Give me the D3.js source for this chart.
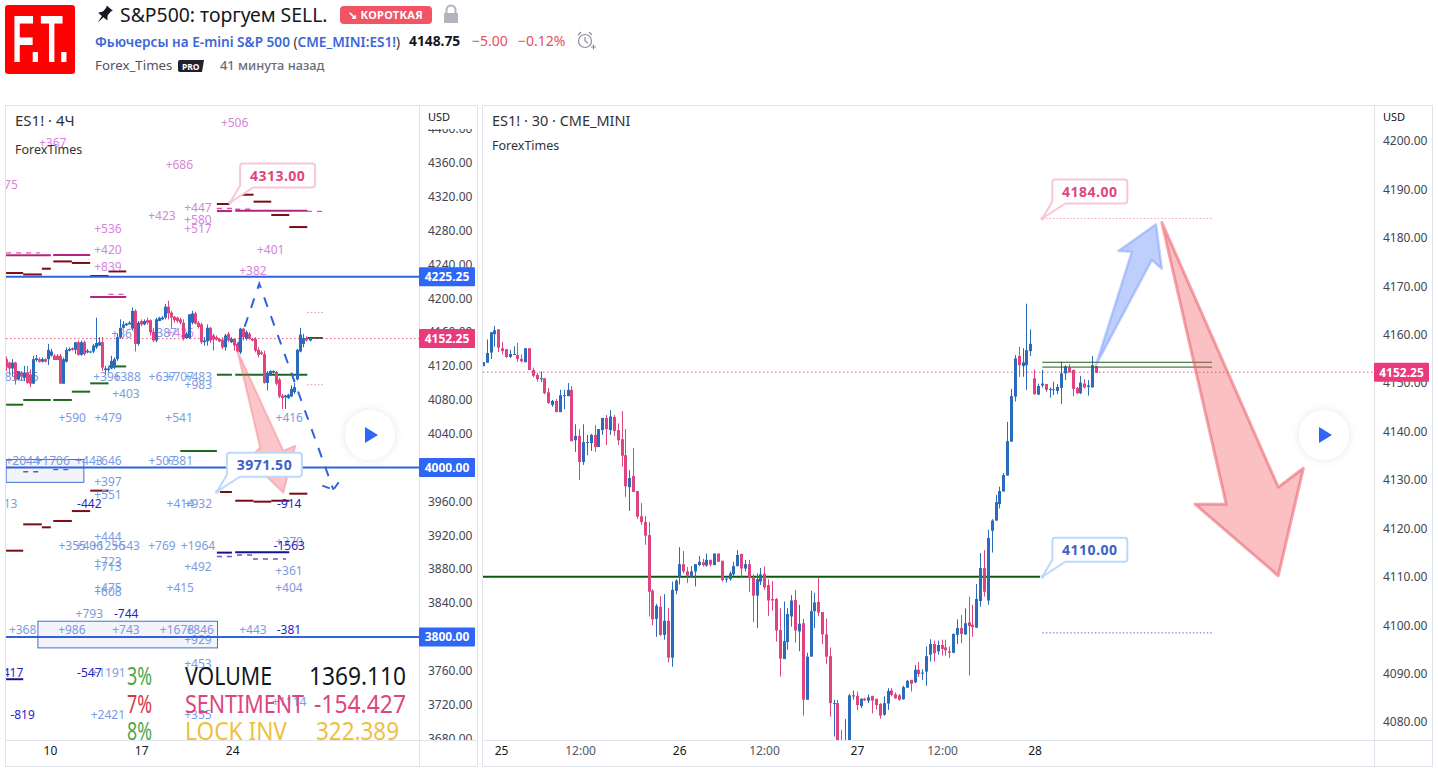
<!DOCTYPE html>
<html>
<head>
<meta charset="utf-8">
<script src="https://cdn.jsdelivr.net/npm/d3@7"></script>
<style>
  body { margin: 0; background: #fff; overflow: hidden; }
  svg { display: block; font-family: "Noto Sans", sans-serif; }
</style>
</head>
<body>
<div id="chart"></div>
<script>
// 4H pane, bars left to right
const leftOpen = [4128,4124,4117,4124,4104,4112,4106,4112,4110,4099,
  4127,4128,4125,4128,4128,4132,4132,4132,4132,4099,
  4125,4138,4141,4139,4148,4133,4148,4136,4136,4137,
  4142,4144,4148,4115,4115,4117,4118,4128,4154,4165,
  4168,4169,4164,4185,4146,4173,4169,4174,4174,4160,
  4150,4173,4175,4177,4190,4183,4178,4177,4175,4171,
  4153,4153,4171,4182,4171,4169,4148,4149,4165,4156,
  4154,4152,4151,4142,4158,4148,4152,4146,4136,4164,
  4152,4158,4152,4152,4139,4136,4134,4100,4110,4112,
  4113,4104,4085,4083,4082,4084,4089,4104,4137,4146,
  4153,4150];
const leftHigh = [4131,4125,4128,4125,4114,4114,4120,4120,4116,4132,
  4133,4130,4130,4129,4146,4140,4134,4134,4134,4130,
  4142,4142,4142,4148,4150,4150,4150,4140,4138,4146,
  4177,4154,4154,4120,4119,4132,4130,4158,4175,4173,
  4171,4173,4189,4187,4173,4175,4175,4177,4175,4165,
  4177,4178,4179,4193,4197,4185,4179,4178,4177,4175,
  4160,4181,4185,4184,4173,4171,4154,4169,4166,4158,
  4156,4153,4154,4158,4160,4154,4152,4148,4165,4165,
  4162,4160,4153,4154,4142,4138,4138,4114,4115,4115,
  4114,4106,4087,4086,4087,4097,4100,4140,4165,4158,
  4155,4153];
const leftLow = [4114,4110,4108,4098,4103,4103,4102,4099,4095,4099,
  4125,4124,4124,4124,4121,4131,4127,4127,4099,4099,
  4124,4137,4138,4134,4132,4132,4132,4135,4135,4135,
  4140,4144,4114,4110,4112,4116,4116,4126,4152,4164,
  4167,4169,4162,4137,4144,4167,4168,4169,4156,4148,
  4148,4173,4174,4175,4175,4165,4171,4171,4169,4150,
  4152,4152,4169,4169,4164,4146,4144,4144,4147,4138,
  4150,4148,4140,4138,4148,4147,4138,4136,4134,4150,
  4150,4151,4149,4136,4130,4133,4099,4091,4109,4111,
  4097,4082,4069,4069,4081,4083,4087,4103,4136,4142,
  4149,4149];
const leftClose = [4118,4117,4124,4104,4114,4108,4112,4100,4099,4128,
  4129,4125,4128,4125,4139,4137,4127,4127,4099,4128,
  4139,4140,4139,4148,4133,4148,4134,4138,4137,4144,
  4147,4148,4118,4117,4117,4126,4128,4154,4165,4169,
  4170,4171,4185,4146,4171,4169,4173,4171,4160,4150,
  4175,4177,4177,4190,4182,4177,4174,4173,4171,4152,
  4158,4181,4182,4170,4166,4148,4150,4165,4150,4151,
  4151,4149,4142,4156,4150,4152,4144,4137,4164,4154,
  4160,4152,4150,4138,4133,4134,4100,4112,4114,4114,
  4099,4084,4082,4085,4086,4093,4095,4139,4157,4153,
  4150,4152];

// 30 min pane
const rightOpen = [4153.5,4154.2,4156.3,4160.1,4161.1,4157.2,4157.0,4155.4,4155.9,4155.8,
  4155.0,4154.3,4157.2,4152.7,4151.7,4150.9,4151.0,4148.1,4145.5,4146.3,
  4144.0,4147.4,4147.3,4148.6,4138.2,4139.1,4133.7,4137.7,4137.6,4139.3,
  4136.8,4140.3,4142.8,4140.3,4143.0,4140.3,4138.4,4135.1,4128.5,4130.8,
  4127.7,4122.5,4121.3,4118.6,4107.1,4101.3,4103.8,4098.0,4100.9,4093.3,
  4107.1,4110.0,4112.6,4111.1,4110.0,4111.1,4112.4,4113.0,4112.3,4113.5,
  4112.4,4114.8,4113.3,4109.4,4109.5,4110.5,4112.2,4114.7,4111.7,4112.6,
  4109.9,4106.1,4109.0,4110.6,4108.3,4105.4,4105.4,4099.0,4093.0,4096.5,
  4101.8,4105.2,4098.7,4100.4,4084.6,4093.5,4102.9,4104.8,4102.7,4098.1,
  4093.6,4083.8,4083.9,4074,4070,4070,4085.3,4085.4,4083.3,4084.8,
  4084.4,4085.4,4084.8,4083.7,4081.5,4083.8,4086.5,4085.7,4085.5,4084.7,
  4087.1,4088.7,4088.2,4090.8,4090.0,4090.4,4093.9,4096.1,4094.6,4095.9,
  4095.4,4094.6,4094.3,4098.0,4099.4,4098.1,4100.6,4100.1,4099.5,4105.0,
  4111.8,4105.1,4119.5,4121.6,4125.0,4127.6,4130.9,4137.9,4147.2,4155.6,
  4153.5,4153.7,4156.6,4151.0,4147.6,4149.5,4149.8,4148.7,4148.6,4148.4,
  4149.0,4152.0,4153.2,4152.7,4149.0,4147.9,4149.9,4149.2,4149.1,4153.5];
const rightHigh = [4154.3,4159.0,4160.5,4161.8,4161.1,4158.5,4157.0,4156.8,4157.6,4158.3,
  4155.9,4157.2,4157.2,4153.2,4152.1,4152.4,4151.0,4149.0,4146.5,4146.7,
  4148.6,4148.6,4150.0,4149.4,4141.5,4140.5,4141.5,4139.3,4139.5,4141.3,
  4140.5,4142.8,4143.4,4144.4,4143.4,4141.7,4144.2,4140.5,4132.0,4136.6,
  4127.7,4125.2,4122.5,4121.3,4107.4,4104.4,4106.0,4106.4,4103.5,4109.0,
  4109.5,4116.1,4115.3,4112.0,4112.2,4112.6,4114.3,4113.7,4114.8,4113.5,
  4114.8,4114.8,4113.3,4110.0,4111.1,4113.1,4115.5,4114.8,4113.5,4113.5,
  4110.5,4110.7,4111.8,4112.1,4109.5,4109.1,4105.6,4103.5,4104.9,4103.5,
  4106.2,4107.3,4104.2,4101.3,4094.3,4107.1,4106.7,4109.9,4102.7,4101.3,
  4095.4,4084.6,4084.6,4078.4,4080.6,4085.8,4086.5,4086.3,4084.9,4085.0,
  4085.7,4085.4,4084.8,4083.9,4085.3,4087.0,4087.0,4086.1,4085.8,4087.5,
  4088.7,4088.7,4091.8,4092.4,4090.9,4095.6,4097.1,4096.8,4096.8,4097.0,
  4097.0,4095.6,4098.3,4101.2,4102.1,4103.5,4105.9,4104.2,4108.5,4114.9,
  4115.5,4119.7,4121.9,4126.9,4128.6,4131.4,4142.0,4148.8,4155.8,4157.5,
  4157.2,4166.4,4161.1,4152.8,4149.9,4152.7,4149.8,4149.1,4150.3,4149.8,
  4154.4,4153.7,4153.9,4152.8,4149.2,4151.5,4150.8,4150.6,4155.6,4153.5];
const rightLow = [4153.5,4154.2,4155.0,4157.5,4156.4,4155.9,4155.2,4155.2,4155.8,4154.4,
  4154.3,4154.3,4152.7,4151.2,4150.3,4150.2,4147.7,4145.7,4145.1,4144.0,
  4144.0,4144.6,4147.3,4138.0,4135.8,4130.0,4133.1,4135.1,4136.0,4135.8,
  4136.8,4139.3,4137.2,4139.3,4139.1,4137.2,4132.7,4126.5,4123.6,4127.5,
  4121.9,4120.7,4116.6,4101.8,4100.0,4097.6,4097.8,4097.0,4092.3,4091.4,
  4106.4,4108.4,4110.7,4108.7,4110.0,4108.0,4112.2,4112.1,4112.1,4112.1,
  4112.4,4113.1,4109.0,4108.8,4109.2,4110.2,4112.1,4110.0,4111.1,4106.8,
  4100.6,4099.4,4108.3,4107.3,4101.9,4103.0,4096.6,4089.4,4093.0,4094.9,
  4099.7,4096.4,4094.6,4081.3,4084.6,4093.5,4099.4,4101.9,4096.1,4092.0,
  4081.1,4077.0,4070,4070,4068,4068,4084.6,4082.4,4082.9,4084.3,
  4083.9,4081.8,4082.6,4080.7,4081.3,4082.5,4085.3,4084.8,4084.4,4084.6,
  4087.0,4086.3,4088.0,4089.3,4088.7,4087.5,4092.5,4092.5,4093.9,4093.7,
  4093.7,4093.2,4094.2,4096.1,4096.3,4098.0,4089.6,4097.6,4099.4,4103.8,
  4105.9,4104.2,4115.0,4121.6,4124.1,4127.6,4130.9,4137.9,4146.2,4151.3,
  4151.3,4148.6,4155.6,4147.6,4147.6,4149.1,4148.2,4147.0,4147.5,4147.7,
  4145.7,4150.6,4152.2,4147.3,4147.7,4147.7,4148.9,4147.4,4149.1,4152.1];
const rightClose = [4154.3,4156.2,4160.5,4160.9,4157.3,4156.6,4155.4,4156.0,4156.0,4155.0,
  4154.5,4157.2,4152.7,4151.5,4150.8,4151.0,4147.9,4145.9,4146.3,4144.0,
  4147.5,4147.5,4148.6,4138.0,4139.1,4133.7,4137.8,4137.8,4139.3,4136.8,
  4140.5,4142.8,4140.5,4143.1,4140.1,4138.2,4135.0,4128.7,4130.4,4127.5,
  4122.4,4121.3,4118.5,4106.9,4101.2,4104.0,4098.0,4100.9,4093.3,4107.3,
  4109.2,4112.6,4111.1,4110.2,4111.1,4112.6,4113.1,4112.4,4113.5,4112.5,
  4114.8,4113.1,4109.3,4109.6,4110.7,4112.2,4114.5,4111.7,4112.6,4109.7,
  4106.1,4109.5,4110.5,4107.8,4105.1,4105.1,4098.9,4093.1,4096.7,4102.3,
  4105.1,4098.9,4100.3,4084.6,4093.5,4102.9,4104.7,4102.6,4098.1,4093.5,
  4083.9,4083.9,4072,4072,4074,4085.5,4085.5,4083.5,4084.8,4084.5,
  4085.1,4084.4,4083.5,4081.3,4083.9,4086.4,4085.6,4084.9,4084.6,4087.2,
  4088.5,4087.9,4090.8,4089.9,4090.2,4093.6,4096.1,4094.2,4095.9,4095.1,
  4094.8,4094.3,4098.2,4099.4,4098.2,4100.4,4099.8,4099.6,4105.4,4111.8,
  4106.9,4118.0,4121.6,4125.4,4127.7,4131.0,4138.0,4147.3,4155.1,4153.7,
  4154.3,4156.8,4158.1,4147.7,4149.4,4149.9,4148.6,4148.8,4148.7,4149.2,
  4152.0,4153.4,4152.2,4148.8,4147.9,4150.1,4149.1,4149.5,4153.7,4152.1];

// axis ticks
const leftPriceTicks = d3.range(3680, 4401, 40);
const rightPriceTicks = d3.range(4080, 4201, 10);
const leftTimeBars = [14.4, 44.8, 75.1];
const leftTimeLabels = ["10", "17", "24"];
const rightTimeBars = [4.6, 25.1, 50.8, 72.8, 96.9, 119, 143];
const rightTimeLabels = ["25", "12:00", "26", "12:00", "27", "12:00", "28"];

// [first bar, last bar, price]
const darkRedLevels = [[-0.2,5.5,4229.7],[5.5,11.7,4228],[11.7,14.7,4234.8],[15.5,21.7,4243.4],[21.7,27.8,4241.6],
  [27.8,33.9,4226.2],[33.9,39.8,4231.6],[70,74.2,4311.2],[76.1,82.2,4322.2],[82.2,88.1,4314],[88.1,94.1,4298.2],[94.1,100.1,4284],
  [-0.2,5.5,3901.8],[5.5,11.7,3932.9],[11.7,14.7,3929.4],[15.5,21.7,3936.9],[21.7,27.8,3948.6],[27.8,33.9,3972.7],
  [71,75,3971.1],[76.1,82.2,3960.8],[82.2,88.1,3959.7],[88.1,94.1,3960.8],[94.1,100.1,3969.1]];
const magentaLevels = [[-0.2,14.7,4250.6],[15.5,27.8,4251.1],[27.8,39.8,4201.3],[70,75,4302.9],[76.1,100.1,4303.2]];
const magentaDashes = [[-0.2,11,4253.5],[33.9,39.2,4204.5],[70,75,4306],[76.1,82,4305],[100,105.5,4302.5]];
const greenLevels = [[-0.2,5.5,4074.2],[5.5,14.7,4079.8],[15.5,21.7,4079.8],[21.7,27.8,4089.6],[27.8,33.9,4099.4],[33.9,39.8,4119.4],
  [70,75,4109.6],[76.1,100.1,4109.6],[100.1,105.3,4153],[57.8,70,4019.5]];
const navyLevels = [[70,75,3899.5],[76.1,94.1,3899.9],[-0.2,5.5,3750]];
const violetDashes = [[70,75,3895],[76.7,81.7,3896.7],[82,93,3892],[5.5,11,3995],[15.5,21,3997.5]];
const dottedLevels = [[100.1,105.8,4183.2],[100.1,105.8,4097.8]];
const mainLevels = [4225.25, 4000, 3800];

// [text, bar, price]
const purpleLabels = [["+506",75.9,4407.6],["+367",15.3,4383.3],["75",1.4,4333.7],["+686",57.5,4357.6],["+447",63.7,4307.2],
  ["+423",51.7,4297.8],["+580",63.7,4293],["+517",63.7,4282],["+536",33.7,4282],["+420",33.7,4257.6],["+401",87.9,4257.6],
  ["+839",33.7,4237.2],["+382",82,4232.8],["+426",57.8,4159]];
const blueLabels = [["+361",39.4,4158],["+387",52.1,4159],["83",1.6,4107.3],["+355",6.1,4107.3],["+396",33.4,4107.3],["+388",40.1,4107.3],
  ["+637",51.8,4107.3],["+707",57.8,4107.3],["+483",63.8,4107.3],["+983",63.8,4097.8],["+403",39.7,4087.2],
  ["+590",21.8,4058.9],["+479",33.8,4058.9],["+541",57.4,4058.9],["+416",94.1,4058.9],
  ["+2044",5.3,4008],["+1706",15.3,4008],["+443",27.4,4008],["+646",33.7,4008],["+507",51.8,4008],["+381",57.5,4008],
  ["+397",33.7,3983.6],["+551",33.7,3967.9],["13",1.3,3957.7],["+414",57.8,3957.7],["+932",63.8,3957.7],
  ["+444",33.7,3918.3],["+355",21.8,3908],["+406",27.5,3908],["+1256",33.7,3908],["+543",39.8,3908],["+769",51.7,3908],["+1964",63.7,3908],["+370",94.1,3912.8],
  ["+723",33.7,3889.2],["+713",33.7,3883.7],["+492",63.7,3883.3],["+361",94,3878.2],
  ["+475",33.7,3858.5],["+608",33.7,3853.7],["+415",57.8,3858.5],["+404",94,3858.5],
  ["+793",27.5,3827.8],["+368",5.3,3808.5],["+986",21.7,3808.5],["+743",39.7,3808.5],["+1678",56.7,3808.5],["+846",64.4,3808.5],["+929",63.7,3797.5],["+443",82,3808.5],
  ["+453",63.7,3768.7],["+1191",33.9,3758],["+2421",33.7,3708.1],["+355",63.7,3708.1],["+1114",94.1,3723.8]];
const navyLabels = [["-442",27.5,3957.7],["-914",94.1,3957.7],["-1563",94.1,3908],["-744",39.8,3827.8],["-381",94,3808.5],
  ["417",2.1,3758],["-547",27.5,3758],["-819",5.3,3708.1]];

// [bar, price] outlines of the hand drawn shapes
const leftArrow = [[76.8,4138],[92.1,4019.9],[96.1,4025.8],[92.1,3970.3],[80.4,4010.4],[84.4,4023.4]];
const leftDashPath = [[77.1,4143.9],[84.1,4217.1],[108.8,3973.8]];
const leftDashHead = [[105.1,3978.6],[108.8,3973.8],[111.4,3986.8]];
const leftBoxes = [[-0.2,25.7,4009.5,3982.5],[10.4,70.2,3818.5,3787]];
const rightUpArrow = [[158.9,4153.7],[168.2,4177.1],[164.7,4177.3],[174.5,4182.8],[176,4173.6],[173.4,4175.4]];
const rightDownArrow = [[176,4183.2],[206.2,4128.5],[212.7,4132.4],[206.2,4110.2],[184.6,4125],[192.7,4125]];

const lastPrice = 4152.25;

const width = 1438, height = 773;
const leftPane = { x0: 6, x1: 419, y0: 106, y1: 740 };
const rightPane = { x0: 483, x1: 1374, y0: 106, y1: 740 };
const bullColor = "#2a6cbb", bearColor = "#df4480";

const xLeft = d3.scaleLinear().domain([0, 101]).range([6.7, 310]);
const yLeft = d3.scaleLinear().domain([3680, 4360]).range([738.5, 162.7]);
const xRight = d3.scaleLinear().domain([0, 159]).range([483.3, 1096.3]);
const yRight = d3.scaleLinear().domain([4080, 4200]).range([722, 141]);

const svg = d3.select("#chart").append("svg").attr("width", width).attr("height", height);
const defs = svg.append("defs");

function addClip(id, x, y, w, h) {
  defs.append("clipPath").attr("id", id).append("rect").attr("x", x).attr("y", y).attr("width", w).attr("height", h);
}
addClip("clipLeft", leftPane.x0, leftPane.y0, leftPane.x1 - leftPane.x0, leftPane.y1 - leftPane.y0);
addClip("clipRight", rightPane.x0, rightPane.y0, rightPane.x1 - rightPane.x0, rightPane.y1 - rightPane.y0);
addClip("clipLeftAxis", 420, 129, 58, 611);
addClip("clipRightAxis", 1375, 129, 58, 611);

const shadow = defs.append("filter").attr("id", "soft").attr("x", "-50%").attr("y", "-50%").attr("width", "200%").attr("height", "200%");
shadow.append("feDropShadow").attr("dx", 0).attr("dy", 0).attr("stdDeviation", 4).attr("flood-color", "#000").attr("flood-opacity", 0.1);

function drawHeader() {
  const g = svg.append("g");
  g.append("rect").attr("x", 5).attr("y", 5).attr("width", 70).attr("height", 69).attr("rx", 3).attr("fill", "#ff0000");
  g.append("text").attr("x", 12).attr("y", 62).attr("font-family", "Liberation Sans").attr("font-weight", 700)
    .attr("font-size", 66).attr("fill", "#fff").attr("textLength", 57).attr("lengthAdjust", "spacingAndGlyphs").text("F.T.");

  // pin
  g.append("path").attr("transform", "translate(104,15) rotate(40)")
    .attr("d", "M-4,-9 L4,-9 L3,-7 L3,-2 L6,2 L1,2 L0,10 L-1,2 L-6,2 L-3,-2 L-3,-7 Z").attr("fill", "#131722");
  g.append("text").attr("x", 120).attr("y", 22).attr("font-size", 19.4).attr("fill", "#131722").text("S&P500: торгуем SELL.");

  g.append("rect").attr("x", 340).attr("y", 6).attr("width", 92).attr("height", 18).attr("rx", 4).attr("fill", "#f25465");
  g.append("text").attr("x", 348).attr("y", 19).attr("font-size", 11).attr("letter-spacing", 0.3).attr("font-weight", 700).attr("fill", "#fff").text("↘ КОРОТКАЯ");

  // lock
  g.append("rect").attr("x", 444).attr("y", 13).attr("width", 14).attr("height", 10).attr("fill", "#b2b5be");
  g.append("path").attr("d", "M446.5,13 V10 a4.5,4.5 0 0 1 9,0 V13").attr("fill", "none").attr("stroke", "#b2b5be").attr("stroke-width", 2);

  const sub = g.append("text").attr("x", 95).attr("y", 47).attr("font-size", 13.6);
  sub.append("tspan").attr("fill", "#3d67d8").attr("font-weight", 600).text("Фьючерсы на E-mini S&P 500 ");
  sub.append("tspan").attr("fill", "#333").text("(");
  sub.append("tspan").attr("fill", "#3d67d8").attr("font-weight", 600).text("CME_MINI:ES1!");
  sub.append("tspan").attr("fill", "#333").text(")");

  g.append("text").attr("x", 409).attr("y", 46).attr("font-size", 13.8).attr("font-weight", 700).attr("fill", "#131722").text("4148.75");
  g.append("text").attr("x", 472).attr("y", 46).attr("font-size", 14).attr("fill", "#e8505c").text("−5.00");
  g.append("text").attr("x", 518).attr("y", 46).attr("font-size", 14).attr("fill", "#e8505c").text("−0.12%");

  // alarm
  g.append("circle").attr("cx", 585).attr("cy", 41).attr("r", 6.5).attr("fill", "none").attr("stroke", "#8a8e99").attr("stroke-width", 1.2);
  g.append("path").attr("d", "M585,37 V41 L588,43 M578,35 L581,32 M592,35 L589,32 M591,47 H596 M593.5,44.5 V49.5")
    .attr("fill", "none").attr("stroke", "#8a8e99").attr("stroke-width", 1.2);

  g.append("text").attr("x", 95).attr("y", 70).attr("font-size", 13.3).attr("fill", "#50535e").text("Forex_Times");
  g.append("path").attr("d", "M180,60 H204 L202,72 H180 a2,2 0 0 1 -2,-2 V62 a2,2 0 0 1 2,-2 Z").attr("fill", "#1e222d");
  g.append("text").attr("x", 182).attr("y", 69.5).attr("font-size", 8.5).attr("font-weight", 700).attr("fill", "#fff").text("PRO");
  g.append("text").attr("x", 220).attr("y", 70).attr("font-size", 12.8).attr("font-weight", 500).attr("fill", "#6a6d78").text("41 минута назад");
}

function drawFrame(x0, axisX, x1) {
  const g = svg.append("g").attr("fill", "none").attr("stroke", "#e0e3eb").attr("stroke-width", 1);
  g.append("rect").attr("x", x0 + 0.5).attr("y", 105.5).attr("width", x1 - x0).attr("height", 661);
  g.append("line").attr("x1", axisX + 0.5).attr("x2", axisX + 0.5).attr("y1", 105).attr("y2", 767);
  g.append("line").attr("x1", x0).attr("x2", x1).attr("y1", 740.5).attr("y2", 740.5);
}

function candleRows(open, high, low, close) {
  return open.map((o, i) => ({ i, o, h: high[i], l: low[i], c: close[i] }));
}

// bodies snap to whole pixels so they stay crisp like the original
function drawCandles(g, rows, x, y, bodyWidth) {
  const color = (d) => (d.c >= d.o ? bullColor : bearColor);
  const left = (d) => Math.round(x(d.i) - bodyWidth / 2);
  g.selectAll("line.wick").data(rows).enter().append("line").attr("class", "wick")
    .attr("x1", (d) => left(d) + bodyWidth / 2).attr("x2", (d) => left(d) + bodyWidth / 2)
    .attr("y1", (d) => y(d.h)).attr("y2", (d) => y(d.l))
    .attr("stroke", color).attr("stroke-width", 1);
  g.selectAll("rect.body").data(rows).enter().append("rect").attr("class", "body")
    .attr("x", left)
    .attr("width", bodyWidth)
    .attr("y", (d) => y(Math.max(d.o, d.c)))
    .attr("height", (d) => Math.max(1, Math.abs(y(d.o) - y(d.c))))
    .attr("fill", color);
}

function drawLevels(g, levels, x, y, color, sw, dash) {
  g.append("g").selectAll("line").data(levels).enter().append("line")
    .attr("x1", (d) => x(d[0])).attr("x2", (d) => x(d[1]))
    .attr("y1", (d) => y(d[2])).attr("y2", (d) => y(d[2]))
    .attr("stroke", color).attr("stroke-width", sw)
    .attr("stroke-dasharray", dash || null);
}

function drawLabels(g, labels, color) {
  g.append("g").selectAll("text").data(labels).enter().append("text")
    .attr("x", (d) => xLeft(d[1])).attr("y", (d) => yLeft(d[2]))
    .attr("text-anchor", "middle").attr("dominant-baseline", "central")
    .attr("font-size", 12).attr("fill", color).text((d) => d[0]);
}

function drawArrow(g, points, x, y, fill, stroke, sw) {
  const line = d3.line().x((d) => x(d[0])).y((d) => y(d[1])).curve(d3.curveLinearClosed);
  g.append("path").attr("d", line(points)).attr("fill", fill).attr("stroke", stroke)
    .attr("stroke-width", sw).attr("stroke-linejoin", "round");
}

function drawCallout(px, py, label, stroke, color) {
  const bx = px + 10, by = py - 39, w = 75, h = 24, r = 3;
  const g = svg.append("g");
  g.append("path")
    .attr("d", `M${bx + r},${by} H${bx + w - r} a${r},${r} 0 0 1 ${r},${r} V${by + h - r} a${r},${r} 0 0 1 ${-r},${r} H${bx + 13} L${px},${py} L${bx},${by + h - 2} V${by + r} a${r},${r} 0 0 1 ${r},${-r} Z`)
    .attr("fill", "#fff").attr("stroke", stroke).attr("stroke-width", 2);
  g.append("circle").attr("cx", px).attr("cy", py).attr("r", 2).attr("fill", stroke);
  g.append("text").attr("x", bx + w / 2).attr("y", by + h / 2).attr("text-anchor", "middle")
    .attr("dominant-baseline", "central").attr("font-size", 14).attr("font-weight", 700)
    .attr("letter-spacing", 0.5).attr("fill", color).text(label);
}

function drawPriceAxis(axisX, scale, ticks, clipId) {
  const g = svg.append("g").attr("clip-path", `url(#${clipId})`);
  const inner = g.append("g").attr("transform", `translate(${axisX},0)`)
    .call(d3.axisRight(scale).tickValues(ticks).tickSize(0).tickPadding(9).tickFormat((d) => d.toFixed(2)));
  inner.select(".domain").remove();
  inner.selectAll("text").attr("font-size", 12).attr("font-family", "Noto Sans").attr("fill", "#434651");
}

function drawTimeAxis(scale, bars, labels) {
  const g = svg.append("g").attr("transform", "translate(0,741)")
    .call(d3.axisBottom(scale).tickValues(bars).tickSize(0).tickPadding(5).tickFormat((d, i) => labels[i]));
  g.select(".domain").remove();
  g.selectAll("text").attr("font-size", 12).attr("font-family", "Noto Sans")
    .attr("fill", (d, i) => (labels[i] === "12:00" ? "#555863" : "#131722"));
}

function drawPriceTag(axisX, w, scale, price, color) {
  const y = scale(price);
  svg.append("rect").attr("x", axisX).attr("y", y - 9.5).attr("width", w).attr("height", 19).attr("rx", 1).attr("fill", color);
  svg.append("text").attr("x", axisX + w / 2).attr("y", y).attr("text-anchor", "middle").attr("dominant-baseline", "central")
    .attr("font-size", 12).attr("font-weight", 700).attr("fill", "#fff").text(price.toFixed(2));
}

function drawPlayButton(cx, cy) {
  svg.append("circle").attr("cx", cx).attr("cy", cy).attr("r", 25).attr("fill", "#fff").attr("filter", "url(#soft)");
  svg.append("path").attr("d", `M${cx - 5},${cy - 8} L${cx + 8},${cy} L${cx - 5},${cy + 8} Z`).attr("fill", "#2f66f5");
}

function drawLeftPane() {
  const g = svg.append("g").attr("clip-path", "url(#clipLeft)");

  g.append("g").selectAll("rect").data(leftBoxes).enter().append("rect")
    .attr("x", (d) => xLeft(d[0])).attr("width", (d) => xLeft(d[1]) - xLeft(d[0]))
    .attr("y", (d) => yLeft(d[2])).attr("height", (d) => yLeft(d[3]) - yLeft(d[2]))
    .attr("fill", "#f3f4fa").attr("stroke", "#3f72d6").attr("stroke-width", 1);

  drawLevels(g, magentaDashes, xLeft, yLeft, "#d25aa8", 1.4, "5 5");
  drawLevels(g, violetDashes, xLeft, yLeft, "#6b55c0", 1.4, "5 5");
  drawLevels(g, magentaLevels, xLeft, yLeft, "#b4247f", 2);
  drawLevels(g, darkRedLevels, xLeft, yLeft, "#7a0c16", 2);
  drawLevels(g, greenLevels, xLeft, yLeft, "#1d6a1d", 2);
  drawLevels(g, navyLevels, xLeft, yLeft, "#16138e", 2);

  drawLabels(g, purpleLabels, "#d486d9");
  drawLabels(g, blueLabels, "#7c9be0");
  drawLabels(g, navyLabels, "#2a1fc4");

  drawLevels(g, mainLevels.map((p) => [-5, 140, p]), xLeft, yLeft, "#2f63dc", 2);

  g.append("line").attr("x1", leftPane.x0).attr("x2", leftPane.x1)
    .attr("y1", yLeft(lastPrice)).attr("y2", yLeft(lastPrice))
    .attr("stroke", "#d9577f").attr("stroke-dasharray", "1.5 2.5");
  drawLevels(g, dottedLevels, xLeft, yLeft, "#e58fb0", 1, "1.5 2");

  drawCandles(g.append("g"), candleRows(leftOpen, leftHigh, leftLow, leftClose), xLeft, yLeft, 3);

  drawArrow(g, leftArrow, xLeft, yLeft, "rgba(242,80,90,0.33)", "rgba(242,100,110,0.35)", 2);

  const dashLine = d3.line().x((d) => xLeft(d[0])).y((d) => yLeft(d[1]));
  g.append("path").attr("d", dashLine(leftDashPath)).attr("fill", "none").attr("stroke", "#2f63dc")
    .attr("stroke-width", 2).attr("stroke-dasharray", "10 10");
  g.append("path").attr("d", dashLine(leftDashHead)).attr("fill", "none").attr("stroke", "#2f63dc")
    .attr("stroke-width", 2).attr("stroke-dasharray", "8 5");

  g.append("text").attr("x", 15).attr("y", 126).attr("font-size", 15).attr("fill", "#333").text("ES1! · 4Ч");
  g.append("text").attr("x", 15).attr("y", 154).attr("font-size", 12.5).attr("fill", "#333").text("ForexTimes");

  drawCallout(xLeft(74.4), yLeft(4313), "4313.00", "#f7c6d9", "#e0457f");
  drawCallout(xLeft(70), yLeft(3971.5), "3971.50", "#bbd9fb", "#3a62c8");
}

function drawRightPane() {
  const g = svg.append("g").attr("clip-path", "url(#clipRight)");

  g.append("line").attr("x1", rightPane.x0).attr("x2", rightPane.x1)
    .attr("y1", yRight(lastPrice)).attr("y2", yRight(lastPrice))
    .attr("stroke", "#d9577f").attr("stroke-dasharray", "1.5 2.5");

  drawLevels(g, [[-1, 144.4, 4110]], xRight, yRight, "#0b5a0b", 2);
  drawCandles(g.append("g"), candleRows(rightOpen, rightHigh, rightLow, rightClose), xRight, yRight, 3);

  drawLevels(g, [[145, 189, 4154.3], [145, 189, 4153.3]], xRight, yRight, "#1d5f1d", 1);
  drawLevels(g, [[145, 189, 4184]], xRight, yRight, "#eda6c2", 1, "1.5 2");
  drawLevels(g, [[145, 189, 4098.4]], xRight, yRight, "#7468c4", 1, "1.5 2");

  drawArrow(g, rightUpArrow, xRight, yRight, "rgba(60,110,250,0.33)", "rgba(90,130,245,0.35)", 2.5);
  drawArrow(g, rightDownArrow, xRight, yRight, "rgba(242,80,90,0.36)", "rgba(235,95,105,0.55)", 3);

  g.append("text").attr("x", 492).attr("y", 126).attr("font-size", 14.5).attr("fill", "#333").text("ES1! · 30 · CME_MINI");
  g.append("text").attr("x", 492).attr("y", 150).attr("font-size", 12.5).attr("fill", "#333").text("ForexTimes");

  drawCallout(xRight(145), yRight(4184), "4184.00", "#f7c6d9", "#e0457f");
  drawCallout(xRight(145), yRight(4110), "4110.00", "#bbd9fb", "#3a62c8");
}

function drawStats() {
  const g = svg.append("g").attr("font-family", "Noto Sans").attr("font-size", 25);
  const rows = [
    { pct: "3%", pctColor: "#4ca64c", name: "VOLUME", nameW: 87, value: "1369.110", valueW: 97, color: "#131722", valueX: 406, y: 685 },
    { pct: "7%", pctColor: "#d8373f", name: "SENTIMENT", nameW: 119, value: "-154.427", valueW: 92, color: "#df4480", valueX: 406, y: 713 },
    { pct: "8%", pctColor: "#4ca64c", name: "LOCK INV", nameW: 102, value: "322.389", valueW: 83, color: "#eec043", valueX: 399, y: 740 }
  ];
  const fitted = (x, w, fill, label, y) => g.append("text").attr("x", x).attr("y", y).attr("fill", fill)
    .attr("textLength", w).attr("lengthAdjust", "spacingAndGlyphs").text(label);
  rows.forEach((r) => {
    fitted(127, 25, r.pctColor, r.pct, r.y);
    fitted(185, r.nameW, r.color, r.name, r.y);
    fitted(r.valueX - r.valueW, r.valueW, r.color, r.value, r.y);
  });
}

drawHeader();
drawFrame(5, 419, 477);
drawFrame(482, 1374, 1432);
drawLeftPane();
drawRightPane();

drawPriceAxis(419, yLeft, leftPriceTicks, "clipLeftAxis");
drawPriceAxis(1374, yRight, rightPriceTicks, "clipRightAxis");
drawTimeAxis(xLeft, leftTimeBars, leftTimeLabels);
drawTimeAxis(xRight, rightTimeBars, rightTimeLabels);

svg.append("text").attr("x", 428).attr("y", 121).attr("font-size", 11).attr("fill", "#131722").text("USD");
svg.append("text").attr("x", 1383).attr("y", 121).attr("font-size", 11).attr("fill", "#131722").text("USD");

drawPriceTag(419, 56, yLeft, 4225.25, "#2f66f5");
drawPriceTag(419, 56, yLeft, 4152.25, "#ea3a7c");
drawPriceTag(419, 56, yLeft, 4000, "#2f66f5");
drawPriceTag(419, 56, yLeft, 3800, "#2f66f5");
drawPriceTag(1374, 55, yRight, 4152.25, "#ea3a7c");

drawPlayButton(370, 435);
drawPlayButton(1324, 435);
drawStats();
</script>
</body>
</html>
